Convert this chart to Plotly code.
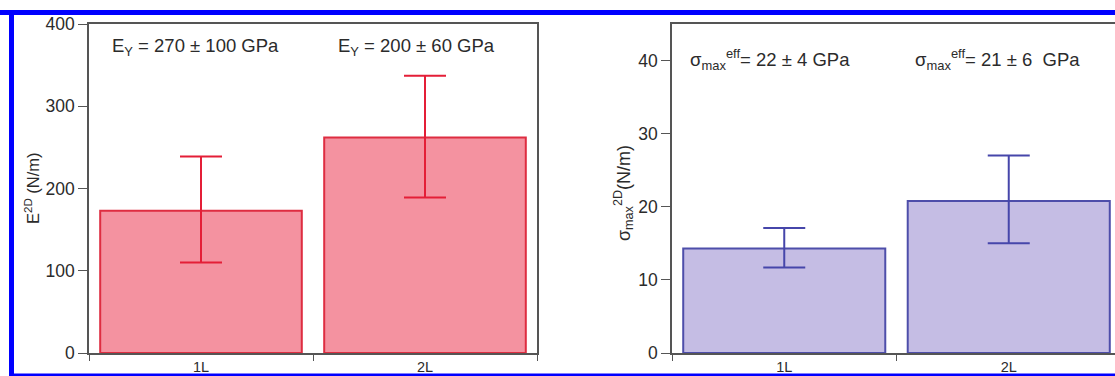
import plotly.graph_objects as go

W, H = 1115, 376

categories = ["1L", "2L"]

# Left panel: E^2D (N/m)
e2d_values = [173, 262]
e2d_err_plus = [66, 75]
e2d_err_minus = [63, 73]

# Right panel: sigma_max^2D (N/m)
sig_values = [14.3, 20.8]
sig_err_plus = [2.8, 6.2]
sig_err_minus = [2.6, 5.8]

left_yticks = [0, 100, 200, 300, 400]
right_yticks = [0, 10, 20, 30, 40]

left_labels = ["E<sub>Y</sub> = 270 ± 100 GPa", "E<sub>Y</sub> = 200 ± 60 GPa"]
right_labels = ["σ<sub>max</sub><sup>eff</sup>= 22 ± 4 GPa", "σ<sub>max</sub><sup>eff</sup>= 21 ± 6  GPa"]

FONT = "Arial, Liberation Sans, Helvetica, sans-serif"
TXT = "#2b2b2b"
AX = "#555555"

fig = go.Figure()

fig.add_trace(go.Bar(
    x=categories, y=e2d_values, width=0.9,
    marker=dict(color="rgb(244,146,160)", line=dict(color="rgb(222,45,65)", width=2)),
    error_y=dict(type="data", symmetric=False, array=e2d_err_plus, arrayminus=e2d_err_minus,
                 color="rgb(228,30,55)", thickness=2, width=21),
    xaxis="x", yaxis="y", showlegend=False,
))
fig.add_trace(go.Bar(
    x=categories, y=sig_values, width=0.9,
    marker=dict(color="rgb(197,189,228)", line=dict(color="rgb(78,78,170)", width=2)),
    error_y=dict(type="data", symmetric=False, array=sig_err_plus, arrayminus=sig_err_minus,
                 color="rgb(70,70,170)", thickness=2, width=21),
    xaxis="x2", yaxis="y2", showlegend=False,
))

ytop = 1 - 24 / H
ybot = 1 - 353 / H

common_x = dict(type="category", showline=True, linecolor=AX, linewidth=1.5,
                ticks="outside", tickson="boundaries", ticklen=6, tickcolor=AX,
                tickfont=dict(family=FONT, size=14.5, color=TXT), showgrid=False,
                zeroline=False, mirror=True, automargin=False)
common_y = dict(showline=True, linecolor=AX, linewidth=1.5, ticks="outside", ticklen=9,
                tickcolor=AX, tickfont=dict(family=FONT, size=17.5, color=TXT),
                showgrid=False, zeroline=False, automargin=False)

# right panel range extends beyond figure edge (clipped in reference)
right_px = W - 672
cat_px = 224.5

fig.update_layout(
    width=W, height=H,
    margin=dict(l=0, r=0, t=0, b=0, pad=0),
    paper_bgcolor="white", plot_bgcolor="white",
    xaxis=dict(domain=[89 / W, 537 / W], range=[-0.5, 1.5], anchor="y", **common_x),
    yaxis=dict(domain=[ybot, ytop], range=[0, 400], tickvals=left_yticks, anchor="x",
               mirror=True, **common_y),
    xaxis2=dict(domain=[672 / W, 1.0], range=[-0.5, -0.5 + right_px / cat_px], anchor="y2", **common_x),
    yaxis2=dict(domain=[ybot, ytop], range=[0, 45], tickvals=right_yticks, anchor="x2",
                mirror=False, **common_y),
    font=dict(family=FONT, color=TXT),
)

ann_font = dict(family=FONT, size=18.5, color=TXT)
anns = [
    dict(text=left_labels[0], x=110 / W, y=1 - 47 / H),
    dict(text=left_labels[1], x=336 / W, y=1 - 47 / H),
    dict(text=right_labels[0], x=688 / W, y=1 - 59 / H),
    dict(text=right_labels[1], x=913 / W, y=1 - 59 / H),
]
for a in anns:
    fig.add_annotation(xref="paper", yref="paper", xanchor="left", yanchor="middle",
                       showarrow=False, font=ann_font, **a)

fig.add_annotation(xref="paper", yref="paper", x=32 / W, y=1 - 188 / H,
                   text="E<sup>2D</sup> (N/m)", textangle=-90, showarrow=False,
                   xanchor="center", yanchor="middle", font=dict(family=FONT, size=16.5, color=TXT))
fig.add_annotation(xref="paper", yref="paper", x=623 / W, y=1 - 193 / H,
                   text="σ<sub>max</sub><sup>2D</sup>(N/m)", textangle=-90, showarrow=False,
                   xanchor="center", yanchor="middle", font=dict(family=FONT, size=18, color=TXT))

# blue frame of the figure
BLUE = "#0000ff"
fig.add_shape(type="rect", xref="paper", yref="paper", x0=0, x1=1, y0=1 - 15 / H, y1=1 - 10 / H,
              fillcolor=BLUE, line=dict(width=0), layer="above")
fig.add_shape(type="rect", xref="paper", yref="paper", x0=9 / W, x1=14 / W, y0=0, y1=1 - 10 / H,
              fillcolor=BLUE, line=dict(width=0), layer="above")
fig.add_shape(type="rect", xref="paper", yref="paper", x0=9 / W, x1=1, y0=0, y1=2.5 / H,
              fillcolor=BLUE, line=dict(width=0), layer="above")

fig.write_html("out.html", config={"displayModeBar": False},
               post_script="document.body.style.margin='0px';document.body.style.overflow='hidden';")
